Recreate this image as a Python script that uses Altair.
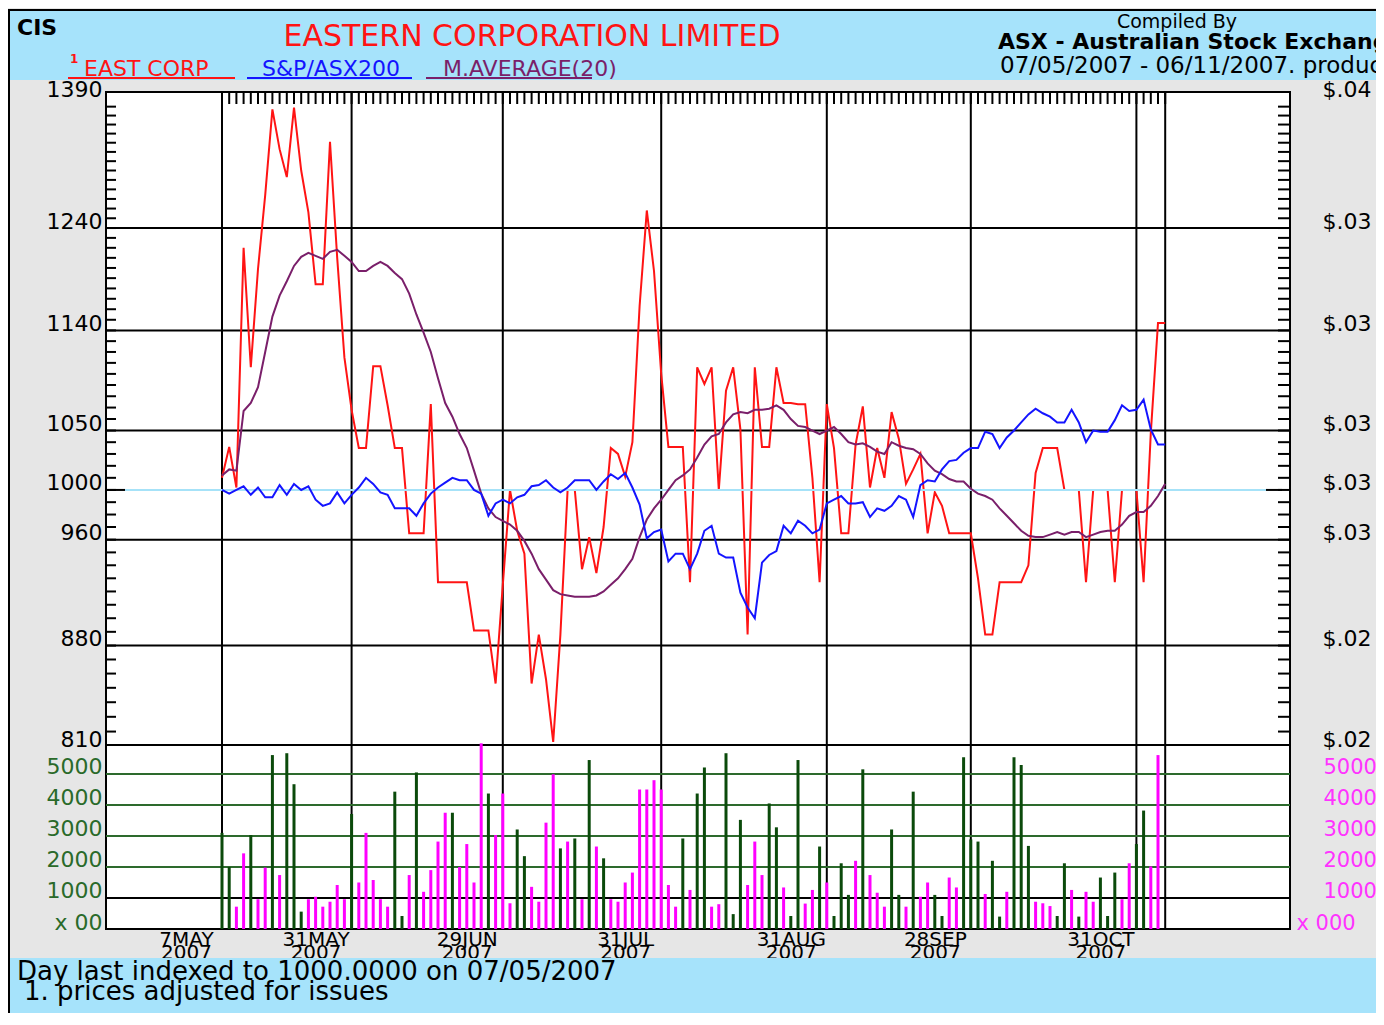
import json
import altair as alt
import pandas as pd

# ---------------- chart values ----------------
east_corp = [
    1010, 1036, 1002, 1220, 1106, 1199, 1274, 1367, 1323, 1293,
    1369, 1300, 1256, 1184, 1184, 1331, 1210, 1115, 1068, 1035,
    1035, 1107, 1107, 1072, 1035, 1035, 965, 965,
    965, 1073, 927, 927, 927, 927, 927, 891, 891, 891,
    853, 925, 1000, 967, 949, 853, 888, 856, 813, 888,
    1000, 1000, 937, 962, 934, 970,
    1035, 1030, 1011, 1040, 1163, 1258, 1197, 1100, 1036, 1036,
    1036, 927, 1106, 1091, 1106, 1000, 1085, 1106, 1051, 888,
    1106, 1036, 1036, 1106, 1074, 1074,
    1073, 1073, 1010, 927, 1073, 1035, 965, 965, 1038, 1071,
    1002, 1035, 1010, 1066, 1043, 1005, 1017, 1030, 965, 998,
    987, 965, 965, 965, 965, 930, 888,
    888, 927, 927, 927, 927, 940, 1014, 1035, 1035, 1035,
    1000, 1000, 1000, 927, 1000, 1000, 1000, 927, 1000, 1000,
    1000, 927, 1048, 1147, 1147,
]

sp_asx200 = [
    1000, 997, 1000, 1003, 996, 1002, 994, 994, 1004, 996,
    1005, 1000, 1003, 992, 987, 989, 998, 989, 996, 1002,
    1010, 1005, 998, 996, 985, 985, 985, 979,
    989, 997, 1002, 1006, 1010, 1008, 1008, 1000, 997, 979,
    989, 992, 989, 994, 996, 1003, 1004, 1008, 1002, 998,
    1002, 1008, 1008, 1008, 1000, 1007,
    1013, 1009, 1014, 1002, 988, 961, 966, 968, 943, 949,
    949, 937, 949, 967, 971, 949, 946, 946, 919, 908,
    900, 942, 948, 951, 971, 965,
    975, 971, 965, 968, 989, 992, 995, 989, 989, 990,
    978, 985, 983, 987, 995, 992, 978, 1004, 1008, 1007,
    1017, 1024, 1025, 1031, 1035, 1035, 1049,
    1047, 1035, 1044, 1050, 1057, 1064, 1069, 1065, 1062, 1057,
    1057, 1068, 1057, 1040, 1050, 1049, 1049, 1059, 1072, 1067,
    1068, 1077, 1051, 1038, 1038,
]

m_average20 = [
    1012, 1017, 1016, 1067, 1074, 1088, 1120, 1153, 1173, 1187,
    1202, 1211, 1215, 1212, 1209, 1216, 1218, 1212, 1206, 1197,
    1197, 1202, 1206, 1202, 1195, 1189, 1175, 1155,
    1138, 1120, 1096, 1074, 1062, 1047, 1035, 1016, 997, 985,
    978, 975, 972, 967, 959, 949, 937, 929, 921, 918,
    917, 916, 916, 916, 917, 920,
    925, 930, 937, 945, 962, 976, 985, 992, 1000, 1008,
    1012, 1017, 1027, 1038, 1045, 1047, 1057, 1064, 1066, 1065,
    1068, 1068, 1069, 1072, 1068, 1060,
    1054, 1053, 1050, 1047, 1050, 1053, 1047, 1040, 1038, 1039,
    1036, 1032, 1030, 1040, 1037, 1035, 1034, 1030, 1022, 1016,
    1013, 1009, 1007, 1007, 1001, 997, 995,
    992, 985, 979, 973, 967, 963, 962, 962, 964, 966,
    964, 966, 966, 962, 964, 966, 967, 967, 972, 979,
    982, 982, 987, 995, 1005,
]

volume = [
    3100, 2000, 720, 2440, 3030, 960, 1980, 5610, 1740, 5670,
    4670, 560, 960, 1040, 720, 880, 1420, 960, 3710, 1500,
    3100, 1580, 960, 720, 4430, 420, 1740, 5050, 1200, 1900,
    2820, 3750, 3750, 2000, 2740, 1500, 5990, 4370, 3030, 4370,
    830, 3210, 2350, 1360, 880, 3430, 4990, 2600, 2820, 2920,
    960, 5450, 2660, 2280, 960, 880, 1500, 1820, 4500, 4500,
    4800, 4500, 1420, 720, 2920, 1260, 4370, 5210, 720, 800,
    5670, 480, 3520, 1420, 2820, 1740, 4050, 3280, 1340, 420,
    5450, 820, 1260, 2660, 1500, 420, 2120, 1100, 2200, 5150,
    1740, 1170, 720, 3210, 1100, 720, 4430, 1040, 1500, 1100,
    420, 1660, 1340, 5540, 2890, 2820, 1130, 2200, 400, 1200,
    5540, 5290, 2680, 880, 830, 740, 420, 2120, 1260, 400,
    1200, 880, 1660, 420, 1820, 960, 2120, 2740, 3820, 2020,
    5610, 0,
]

volume_side = list(
    "GGMMGMMGMG" "GGMMMMMMGM" "MMMMGGMGMM" "MMGMMMMGMM" "MGGMMMMGMG"
    "MGMGMMMMMM" "MMMMGMGGMM" "GGGMMMGGMG" "GMMGMGGGMG" "MMMGGMGMMG"
    "GMMGGGMGGM" "GGGMMMGGMG" "MMGGGMMGGM" "MM"
)

date_ticks = [0, 18, 39, 61, 84, 104, 127]
date_names = ["7MAY", "31MAY", "29JUN", "31JUL", "31AUG", "28SEP", "31OCT"]
date_year = "2007"
last_day = 131

price_ticks = [1390, 1240, 1140, 1050, 1000, 960, 880, 810]
price_dollars = ["$.04", "$.03", "$.03", "$.03", "$.03", "$.03", "$.02", "$.02"]
price_grid = [1240, 1140, 1050, 960, 880]
base_index = 1000
vol_ticks = [0, 1000, 2000, 3000, 4000, 5000]
vol_left_labels = ["x 00", "1000", "2000", "3000", "4000", "5000"]
vol_right_labels = ["x 000", "1000", "2000", "3000", "4000", "5000"]

code_text = "CIS"
title_text = "EASTERN CORPORATION LIMITED"
legend_names = ["EAST CORP", "S&P/ASX200", "M.AVERAGE(20)"]
compiled_text = "Compiled By"
source_text = "ASX - Australian Stock Exchange"
range_text = "07/05/2007 - 06/11/2007. produced 07/11/2007"
foot_lines = ["Day last indexed to 1000.0000 on 07/05/2007", "1.  prices  adjusted for issues"]

# ---------------- layout & style ----------------
FONT = "DejaVu Sans"
W, H, H_PRICE = 1184, 837, 653
PAD_L, PAD_T = 98, 84
TOTAL_W, TOTAL_H = 1368, 1005
PAD_R = TOTAL_W - PAD_L - W
PAD_B = TOTAL_H - PAD_T - H
XDOM = [-16.111, 148.333]
PRICE_DOM, PRICE_RANGE = [810, 1390], [654.5, -3.0]

RED, BLUE, PURPLE = "#ff1414", "#1414ff", "#7a1f6a"
CYAN, BAND, GRAY = "#a6e2f8", "#a6e3fb", "#e6e6e6"
VOL_GREEN, GRID_GREEN, LABEL_GREEN, MAGENTA = "#0b4a0b", "#2d6a2d", "#2a6a2a", "#ff00ff"

n = len(east_corp)
df = pd.DataFrame({
    "day": list(range(n)), "east": east_corp, "sp": sp_asx200, "ma": m_average20,
    "vol": volume, "side": volume_side,
})


def map_expr(values, labels):
    expr = "''"
    for v, lab in reversed(list(zip(values, labels))):
        expr = f"datum.value == {v} ? {json.dumps(lab)} : ({expr})"
    return expr


x_axis = alt.Axis(
    values=date_ticks, labelExpr=map_expr(date_ticks, [[d, date_year] for d in date_names]),
    grid=False, ticks=False, domain=False, title=None, labelFont=FONT, labelFontSize=20,
    labelColor="black", labelLineHeight=13, labelAlign="center", labelBaseline="top",
    labelOffset=-36, labelPadding=0, labelOverlap=False, labelFlush=False, labelBound=False,
)


def X(field="day"):
    return alt.X(f"{field}:Q", scale=alt.Scale(domain=XDOM, nice=False, zero=False), axis=x_axis, title=None)


def YP(field, axis=None):
    return alt.Y(f"{field}:Q", scale=alt.Scale(type="log", domain=PRICE_DOM, range=PRICE_RANGE, nice=False),
                 axis=axis, title=None)


def YV(field, axis=None):
    return alt.Y(f"{field}:Q", scale=alt.Scale(domain=[0, 5935], range=[H, H_PRICE], nice=False, zero=True),
                 axis=axis, title=None)


common_axis = dict(grid=False, ticks=False, domain=False, title=None, labelFont=FONT,
                   labelOverlap=False, labelBound=False, labelFlush=False)
top_baseline = {"condition": {"test": "datum.value == 1390", "value": "middle"}, "value": "alphabetic"}

price_left_axis = alt.Axis(orient="left", values=price_ticks, format="d", labelColor="black", labelPadding=4,
                           labelFontSize=22, labelBaseline=top_baseline, **common_axis)
price_right_axis = alt.Axis(orient="right", values=price_ticks, labelExpr=map_expr(price_ticks, price_dollars),
                            labelColor="black", labelPadding=32, labelFontSize=22, labelBaseline=top_baseline,
                            **common_axis)
vol_left_axis = alt.Axis(orient="left", values=vol_ticks, labelExpr=map_expr(vol_ticks, vol_left_labels),
                         labelColor=LABEL_GREEN, labelPadding=4, labelFontSize=22, labelBaseline="alphabetic",
                         **common_axis)
vol_right_axis = alt.Axis(orient="right", values=vol_ticks, labelExpr=map_expr(vol_ticks, vol_right_labels),
                          labelColor="#ff33ff", labelBaseline="alphabetic", labelFontSize=21,
                          labelPadding={"condition": {"test": "datum.value == 0", "value": 6}, "value": 33},
                          **common_axis)

one = alt.Data(values=[{"k": 0}])


def deco_rect(x, x2, y, y2, color):
    return alt.Chart(one).mark_rect(color=color).encode(
        x=alt.value(x), x2=alt.value(x2), y=alt.value(y), y2=alt.value(y2))


def deco_rule(x, x2, y, y2, color, w=2):
    return alt.Chart(one).mark_rule(color=color, strokeWidth=w).encode(
        x=alt.value(x), x2=alt.value(x2), y=alt.value(y), y2=alt.value(y2))


def label(text, x, y, size, color="black", align="left", bold=False):
    return alt.Chart(one).mark_text(
        text=text, align=align, baseline="alphabetic", font=FONT, fontSize=size,
        fontWeight="bold" if bold else "normal", color=color,
    ).encode(x=alt.value(x), y=alt.value(y))


left_edge, right_edge = -PAD_L, TOTAL_W - PAD_L
layers = [
    deco_rect(left_edge + 2, right_edge, -81, -12, BAND),
    deco_rect(left_edge + 2, right_edge, 866, TOTAL_H - PAD_T, BAND),
    deco_rule(left_edge + 1, left_edge + 1, -82, TOTAL_H - PAD_T, "black"),
    deco_rule(left_edge, right_edge, -82, -82, "black"),
    label(code_text, -89, -57, 22, bold=True),
    label(title_text, 426, -46, 30, color=RED, align="center"),
    label("1", -36, -29, 12, color=RED, bold=True),
    label(legend_names[0], -22, -16, 22, color=RED),
    label(legend_names[1], 156, -16, 22, color=BLUE),
    label(legend_names[2], 337, -16, 22, color=PURPLE),
    deco_rule(-38, 129, -14, -14, RED),
    deco_rule(141, 306, -14, -14, BLUE),
    deco_rule(320, 486, -14, -14, PURPLE),
    label(compiled_text, 1071, -64, 19, align="center"),
    label(source_text, 892, -43, 22, bold=True),
    label(range_text, 894, -19, 23),
    label(foot_lines[0], -89, 888, 26),
    label(foot_lines[1], -82, 908, 26),
]

vgrid_df = pd.DataFrame({"day": date_ticks + [last_day]})
layers.append(alt.Chart(vgrid_df).mark_rule(color="black", strokeWidth=2).encode(
    x=X("day"), y=alt.value(0), y2=alt.value(H)))
layers.append(alt.Chart(pd.DataFrame({"v": price_grid})).mark_rule(color="black", strokeWidth=2).encode(
    x=alt.value(0), x2=alt.value(W), y=YP("v")))
layers.append(alt.Chart(pd.DataFrame({"v": vol_ticks[2:]})).mark_rule(color=GRID_GREEN, strokeWidth=2).encode(
    x=alt.value(0), x2=alt.value(W), y=YV("v")))
layers.append(alt.Chart(pd.DataFrame({"v": vol_ticks[1:2]})).mark_rule(color="black", strokeWidth=2).encode(
    x=alt.value(0), x2=alt.value(W), y=YV("v")))
layers.append(deco_rule(0, W, H_PRICE, H_PRICE, "black"))

minor_df = pd.DataFrame({"v": list(range(820, 1380, 10))})
layers.append(alt.Chart(minor_df).mark_rule(color="black", strokeWidth=2).encode(
    x=alt.value(0), x2=alt.value(10), y=YP("v")))
layers.append(alt.Chart(minor_df).mark_rule(color="black", strokeWidth=2).encode(
    x=alt.value(W - 12), x2=alt.value(W), y=YP("v")))
base_df = pd.DataFrame({"v": [base_index]})
layers.append(alt.Chart(base_df).mark_rule(color="black", strokeWidth=2).encode(
    x=alt.value(0), x2=alt.value(19), y=YP("v")))
layers.append(alt.Chart(base_df).mark_rule(color="black", strokeWidth=2).encode(
    x=alt.value(W - 24), x2=alt.value(W - 8), y=YP("v")))
layers.append(alt.Chart(df).mark_rule(color="black", strokeWidth=2).encode(
    x=X("day"), y=alt.value(0), y2=alt.value(12)))

tick_df = pd.DataFrame({"v": price_ticks})
vtick_df = pd.DataFrame({"v": vol_ticks})
layers.append(alt.Chart(tick_df).mark_rule(opacity=0).encode(
    x=alt.value(0), x2=alt.value(1), y=YP("v", price_left_axis)))
layers.append(alt.Chart(tick_df).mark_rule(opacity=0).encode(
    x=alt.value(0), x2=alt.value(1), y=YP("v", price_right_axis)))
layers.append(alt.Chart(vtick_df).mark_rule(opacity=0).encode(
    x=alt.value(0), x2=alt.value(1), y=YV("v", vol_left_axis)))
layers.append(alt.Chart(vtick_df).mark_rule(opacity=0).encode(
    x=alt.value(0), x2=alt.value(1), y=YV("v", vol_right_axis)))

layers.append(alt.Chart(df).mark_rule(strokeWidth=3).encode(
    x=X("day"), y=YV("vol"), y2=alt.datum(0),
    color=alt.Color("side:N", scale=alt.Scale(domain=["G", "M"], range=[VOL_GREEN, MAGENTA]), legend=None)))

layers.append(alt.Chart(df).mark_line(color=RED, strokeWidth=2).encode(x=X("day"), y=YP("east")))
layers.append(alt.Chart(base_df).mark_rule(color=CYAN, strokeWidth=2).encode(
    x=alt.value(19), x2=alt.value(W - 24), y=YP("v")))
layers.append(alt.Chart(df).mark_line(color=PURPLE, strokeWidth=2).encode(x=X("day"), y=YP("ma")))
layers.append(alt.Chart(df).mark_line(color=BLUE, strokeWidth=2).encode(x=X("day"), y=YP("sp")))

chart = alt.layer(*layers).resolve_scale(y="independent").properties(
    width=W, height=H,
    autosize=alt.AutoSizeParams(type="none"),
    padding={"left": PAD_L, "top": PAD_T, "right": PAD_R, "bottom": PAD_B},
    background=GRAY,
).configure_view(fill="white", stroke="black", strokeWidth=2)

chart.save("out.html", embed_options={"renderer": "svg", "actions": False})
